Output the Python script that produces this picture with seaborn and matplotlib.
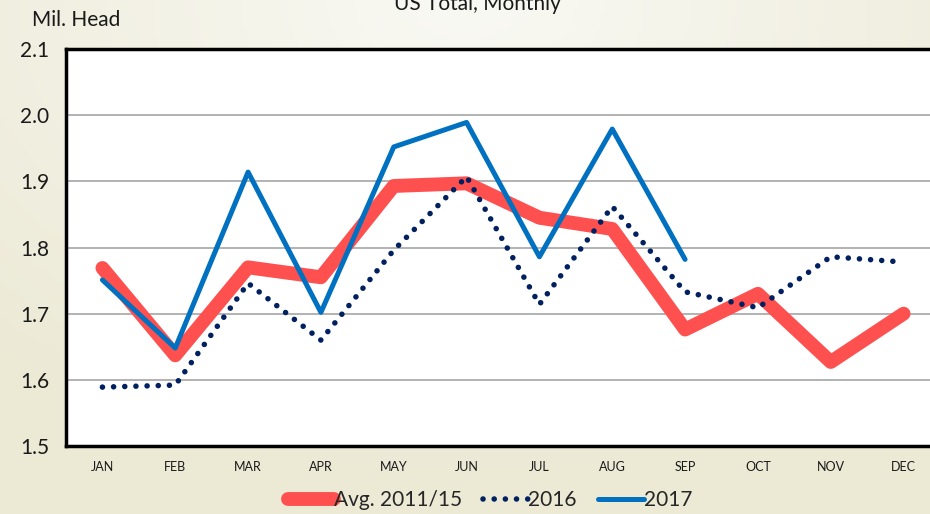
import numpy as np
import pandas as pd
import matplotlib.pyplot as plt
import seaborn as sns

sns.set_theme(style="white")
plt.rcParams['font.family'] = ['Lato', 'DejaVu Sans']

# ---- data ----
months = ["JAN", "FEB", "MAR", "APR", "MAY", "JUN",
          "JUL", "AUG", "SEP", "OCT", "NOV", "DEC"]
avg_11_15 = [1.769, 1.637, 1.770, 1.755, 1.893, 1.897,
             1.845, 1.828, 1.676, 1.730, 1.627, 1.700]
y2016 = [1.589, 1.592, 1.746, 1.660, 1.796, 1.907,
         1.714, 1.862, 1.733, 1.709, 1.786, 1.778]
y2017 = [1.751, 1.648, 1.914, 1.702, 1.952, 1.989,
         1.786, 1.979, 1.782]

W, H = 930, 514
fig = plt.figure(figsize=(W / 100, H / 100), dpi=100)

# cream slide background with a soft gradient
bg = fig.add_axes([0, 0, 1, 1], zorder=-10)
gx, gy = np.meshgrid(np.linspace(0, 1, 200), np.linspace(0, 1, 120))
d = np.sqrt(((gx - 0.5) * 1.1) ** 2 + ((gy - 0.0) * 0.9) ** 2)
c0 = np.array([249, 249, 244]) / 255
c1 = np.array([236, 233, 213]) / 255
t = np.clip(d / 0.85, 0, 1)[..., None]
bg.imshow(c0 * (1 - t) + c1 * t, aspect="auto", extent=[0, 1, 0, 1])
bg.axis("off")

left, right, top, bottom = 66, 940, 49, 446
ax = fig.add_axes([left / W, 1 - bottom / H, (right - left) / W, (bottom - top) / H])
ax.set_facecolor("white")

x = np.arange(len(months))
sns.lineplot(x=x, y=avg_11_15, ax=ax, color="#FF5050", lw=10,
             solid_capstyle="round", solid_joinstyle="round",
             label="Avg. 2011/15", zorder=2)
sns.lineplot(x=x, y=y2016, ax=ax, color="#002060", lw=4,
             linestyle=(0, (0.01, 2.0)), dash_capstyle="round",
             label="2016", zorder=3)
sns.lineplot(x=x[:len(y2017)], y=y2017, ax=ax, color="#0070C0", lw=3.6,
             solid_capstyle="round", solid_joinstyle="round",
             label="2017", zorder=4)

ax.set_xlim(-0.5, len(months) - 0.5)
ax.set_ylim(1.5, 2.1)
ax.set_yticks(np.arange(1.5, 2.11, 0.1))
ax.set_yticklabels([f"{v:.1f}" for v in np.arange(1.5, 2.11, 0.1)], fontsize=15)
ax.set_xticks(x)
ax.set_xticklabels(months, fontsize=9)
ax.set_xticks(np.arange(-0.5, len(months)), minor=True)
ax.tick_params(axis="x", which="major", length=0, pad=11, colors="#1a1a1a")
ax.tick_params(axis="x", which="minor", length=5, width=1, color="#333333")
ax.tick_params(axis="y", length=6, width=1, color="#555555", pad=6, colors="#1a1a1a")
ax.yaxis.grid(True, color="#a6a6a6", lw=1.2)
ax.set_axisbelow(True)
for s in ["left", "top", "bottom"]:
    ax.spines[s].set_color("black")
    ax.spines[s].set_linewidth(2.5)
ax.spines["right"].set_visible(False)
ax.set_xlabel("")
ax.set_ylabel("")

fig.text(32 / W, 1 - 20 / H, "Mil. Head", fontsize=15, va="center", ha="left", color="#1a1a1a")
# title sits partly above the top edge, as in the reference slide crop
fig.text(477 / W, 1 - 10 / H, "US Total, Monthly", fontsize=15, va="baseline", ha="center",
         color="#1a1a1a")

handles, labels = ax.get_legend_handles_labels()
ax.get_legend().remove()
fig.legend(handles, labels, loc="center", bbox_to_anchor=(490 / W, 1 - 500 / H),
           ncol=3, frameon=False, fontsize=15, handlelength=2.2,
           handletextpad=0.0, columnspacing=1.0, borderaxespad=0)

fig.savefig("out.png", dpi=100)
